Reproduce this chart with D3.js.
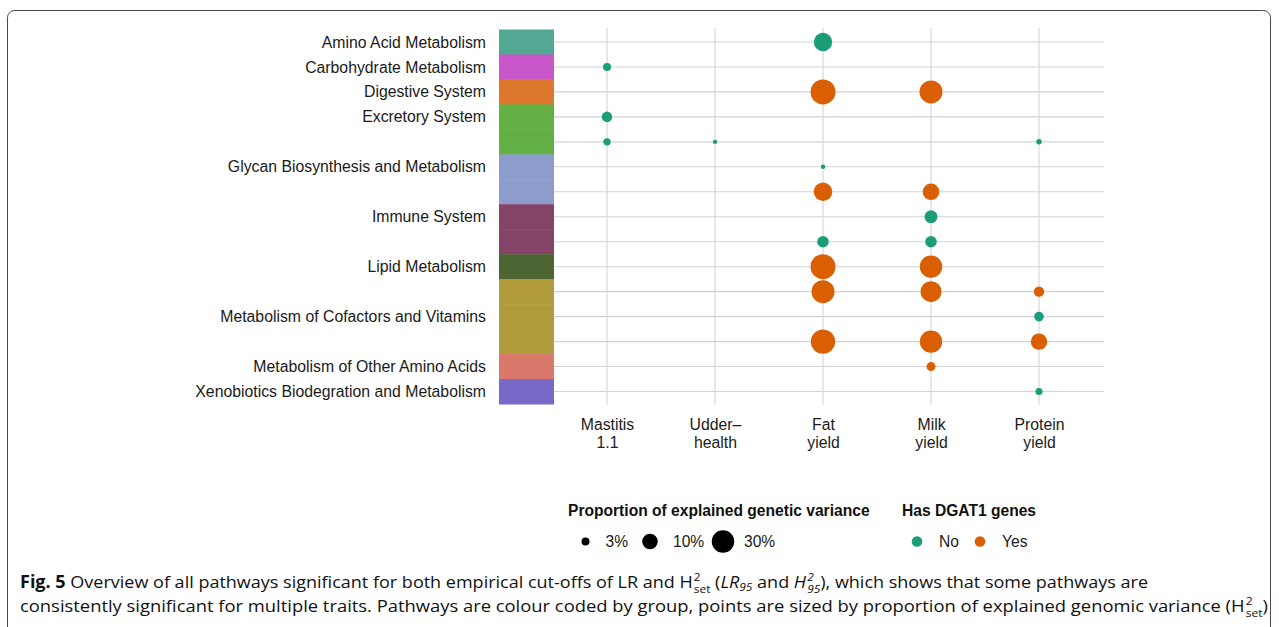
<!DOCTYPE html>
<html>
<head>
<meta charset="utf-8">
<script src="https://cdn.jsdelivr.net/npm/d3@7"></script>
<style>
  html, body { margin: 0; padding: 0; background: #fff; }
  #wrap { position: relative; width: 1279px; height: 627px; overflow: hidden; }
  svg { position: absolute; left: 0; top: 0; }
  .cap-line { position: absolute; left: 20px; white-space: nowrap; font-family: "Open Sans", "Noto Sans", sans-serif;
              font-size: 17px; color: #111; transform-origin: 0 0; line-height: 1; }
  .ss { display: inline-block; position: relative; font-size: 0.66em; margin-left: 1px; }
  .ss .up { position: absolute; left: 0; top: -0.62em; }
  .ss .dn { position: relative; top: 0.42em; }
  .sb { font-size: 0.66em; position: relative; top: 0.3em; }
</style>
</head>
<body>
<div id="wrap">
  <svg id="chart" width="1279" height="627"></svg>
</div>
<script>
// Pathway groups, top to bottom, with the number of significant pathways in each
const groups = [
  "Amino Acid Metabolism",
  "Carbohydrate Metabolism",
  "Digestive System",
  "Excretory System",
  "Glycan Biosynthesis and Metabolism",
  "Immune System",
  "Lipid Metabolism",
  "Metabolism of Cofactors and Vitamins",
  "Metabolism of Other Amino Acids",
  "Xenobiotics Biodegration and Metabolism"
];
const groupSizes = [1, 1, 1, 2, 2, 2, 1, 3, 1, 1];
const groupColors = ["#52a893", "#c957c9", "#dc772b", "#62b043", "#8e9ccb",
                     "#854367", "#4d6532", "#b29b3b", "#d9796c", "#7869c6"];

// Traits (x axis), written on two lines
const traits = ["Mastitis 1.1", "Udder-health", "Fat yield", "Milk yield", "Protein yield"];
const traitLabels = [["Mastitis", "1.1"], ["Udder\u2013", "health"], ["Fat", "yield"], ["Milk", "yield"], ["Protein", "yield"]];

// Significant pathway/trait pairs: pathway row, trait index, share of genetic variance, DGAT1 membership
const pointRow   = [0,    1,    2,    2,    3,     4,     4,     4,     5,     6,     6,     7,     8,     8,     9,    9,    10,   10,   10,    11,    12,   12,   12,    13,    14];
const pointTrait = [2,    0,    2,    3,    0,     0,     1,     4,     2,     2,     3,     3,     2,     3,     2,    3,    2,    3,    4,     4,     2,    3,    4,     3,     4];
const pointShare = [0.158,0.030,0.45, 0.33, 0.045, 0.027, 0.017, 0.020, 0.017, 0.164, 0.119, 0.067, 0.053, 0.053, 0.45, 0.30, 0.33, 0.24, 0.044, 0.039, 0.41, 0.30, 0.115, 0.035, 0.026];
const pointDGAT1 = ["No","No","Yes","Yes","No",  "No",  "No",  "No",  "No",  "Yes", "Yes", "No",  "No",  "No",  "Yes","Yes","Yes","Yes","Yes", "No",  "Yes","Yes","Yes", "Yes", "No"];

// Legend entries
const sizeLegend = [0.03, 0.10, 0.30];
const sizeLegendLabels = ["3%", "10%", "30%"];
const dgatLevels = ["No", "Yes"];
const dgatColors = ["#1b9e77", "#d95f02"];

const svg = d3.select("#chart");
const labelFont = "'Liberation Sans', Arial, Helvetica, sans-serif";
const labelSize = 15.8;

// Frame around the figure
svg.append("rect")
  .attr("x", 7.5).attr("y", 10.5).attr("width", 1263).attr("height", 700)
  .attr("rx", 7).attr("fill", "none").attr("stroke", "#4a4a4a").attr("stroke-width", 1);

// One entry per pathway row, tagged with its group
const rows = [];
groups.forEach((g, gi) => {
  for (let k = 0; k < groupSizes[gi]; k++) rows.push({ group: gi, k: k, labelled: k === Math.floor((groupSizes[gi] - 1) / 2) });
});

const panel = { left: 554, right: 1104, top: 28, bottom: 405 };
const y = d3.scaleBand().domain(d3.range(rows.length)).range([29.5, 404]).paddingInner(0).paddingOuter(0);
const yc = i => y(i) + y.bandwidth() / 2;
const x = d3.scalePoint().domain(d3.range(traits.length)).range([607, 1039]);
const r = d3.scaleLog().domain([0.03, 0.3]).range([4, 11.2]);
const colour = d3.scaleOrdinal().domain(dgatLevels).range(dgatColors);

// Grid
const grid = svg.append("g").attr("stroke", "#d3d3d3").attr("stroke-width", 1.1);
grid.selectAll("line.h").data(rows).join("line").attr("class", "h")
  .attr("x1", panel.left).attr("x2", panel.right)
  .attr("y1", (d, i) => yc(i)).attr("y2", (d, i) => yc(i));
grid.selectAll("line.v").data(traits).join("line").attr("class", "v")
  .attr("x1", (d, i) => x(i)).attr("x2", (d, i) => x(i))
  .attr("y1", panel.top).attr("y2", panel.bottom);

// Group colour strip
svg.append("g").selectAll("rect").data(rows).join("rect")
  .attr("x", 499).attr("width", 55)
  .attr("y", (d, i) => y(i)).attr("height", y.bandwidth() + 0.5)
  .attr("fill", d => groupColors[d.group]);

// Group labels on the left
const yAxis = d3.axisLeft(d3.scaleLinear().domain([0, rows.length - 1]).range([yc(0), yc(rows.length - 1)]))
  .tickValues(d3.range(rows.length).filter(i => rows[i].labelled))
  .tickFormat(i => groups[rows[i].group])
  .tickSize(0).tickPadding(13);
const ya = svg.append("g").attr("transform", "translate(499,0)").call(yAxis);
ya.select(".domain").remove();
ya.selectAll("text").attr("font-family", labelFont).attr("font-size", labelSize).attr("fill", "#1a1a1a");

// Trait labels below the panel
const xa = svg.append("g").attr("transform", `translate(0,${panel.bottom})`)
  .call(d3.axisBottom(x).tickSize(0).tickFormat(""));
xa.select(".domain").remove();
xa.selectAll(".tick").each(function (d) {
  const t = d3.select(this).append("text").attr("text-anchor", "middle")
    .attr("font-family", labelFont).attr("font-size", labelSize).attr("fill", "#1a1a1a");
  traitLabels[d].forEach((s, j) => t.append("tspan").attr("x", 0).attr("y", 25 + j * 18).text(s));
});

// Points
const pts = pointRow.map((row, i) => ({ row, trait: pointTrait[i], share: pointShare[i], dgat: pointDGAT1[i] }));
svg.append("g").selectAll("circle").data(pts).join("circle")
  .attr("cx", d => x(d.trait)).attr("cy", d => yc(d.row))
  .attr("r", d => r(d.share)).attr("fill", d => colour(d.dgat));

// Size legend
const legendSize = 15.6;
const lg = svg.append("g").attr("font-family", labelFont);
lg.append("text").attr("x", 568).attr("y", 516).attr("font-size", legendSize).attr("font-weight", "bold")
  .attr("fill", "#111").text("Proportion of explained genetic variance");
const sizeX = [585.5, 650, 723];
sizeLegend.forEach((v, i) => {
  lg.append("circle").attr("cx", sizeX[i]).attr("cy", 541.5).attr("r", r(v)).attr("fill", "#000");
  lg.append("text").attr("x", sizeX[i] + (i === 2 ? 21 : i === 1 ? 23 : 20)).attr("y", 547)
    .attr("font-size", legendSize).attr("fill", "#1a1a1a").text(sizeLegendLabels[i]);
});

// DGAT1 legend
lg.append("text").attr("x", 902).attr("y", 516).attr("font-size", legendSize).attr("font-weight", "bold")
  .attr("fill", "#111").text("Has DGAT1 genes");
const dgX = [917, 980];
dgatLevels.forEach((lvl, i) => {
  lg.append("circle").attr("cx", dgX[i]).attr("cy", 541.5).attr("r", 5.3).attr("fill", colour(lvl));
  lg.append("text").attr("x", dgX[i] + 22).attr("y", 547).attr("font-size", legendSize).attr("fill", "#1a1a1a").text(lvl);
});

// Caption
const ss = (a, b) => `<span class="ss"><span class="up">${a}</span><span class="dn">${b}</span></span>`;
const captionLines = [
  { top: 573, width: 1128, html: `<b>Fig. 5</b> Overview of all pathways significant for both empirical cut-offs of LR and H${ss("2", "set")} (<i>LR</i><span class="sb"><i>95</i></span> and <i>H</i>${ss("<i>2</i>", "<i>95</i>")}), which shows that some pathways are` },
  { top: 597, width: 1248, html: `consistently significant for multiple traits. Pathways are colour coded by group, points are sized by proportion of explained genomic variance (H${ss("2", "set")})` }
];
const cap = d3.select("#wrap").selectAll("div.cap-line").data(captionLines).join("div")
  .attr("class", "cap-line").style("top", d => d.top + "px").html(d => d.html);
cap.each(function (d) {
  const w = this.getBoundingClientRect().width;
  d3.select(this).style("transform", `scaleX(${d.width / w})`);
});
</script>
</body>
</html>
